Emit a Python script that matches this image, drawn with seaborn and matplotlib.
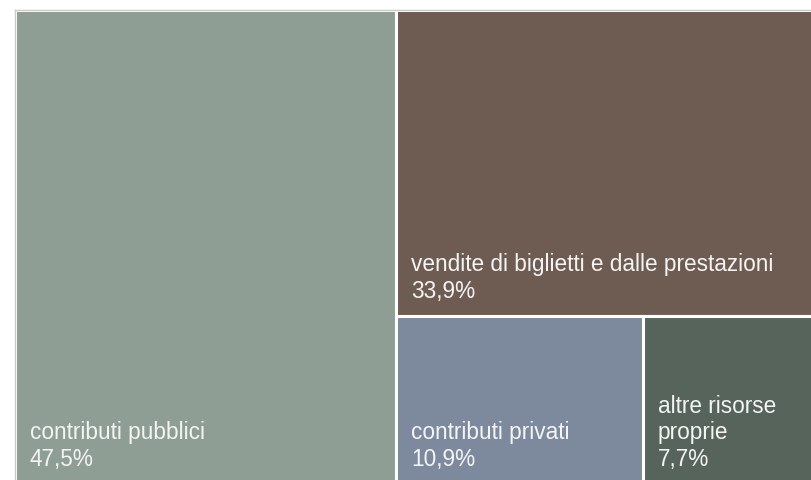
# Treemap delle fonti di finanziamento
import matplotlib
matplotlib.use("Agg")
import matplotlib.pyplot as plt
import seaborn as sns
from matplotlib.patches import Rectangle

# Dati
voci = ["contributi pubblici", "vendite di biglietti e dalle prestazioni",
        "contributi privati", "altre risorse\nproprie"]
quote = [47.5, 33.9, 10.9, 7.7]
etichette = ["47,5%", "33,9%", "10,9%", "7,7%"]
colori = ["#8e9e94", "#6e5c53", "#7d8a9e", "#56645b"]

sns.set_theme(style="white")
plt.rcParams["font.family"] = ["Liberation Sans", "DejaVu Sans"]


# Layout slice-and-dice: il primo elemento si stacca, poi si alterna la direzione
def slice_dice(valori, x, y, w, h, verticale=True):
    rett = []
    for i, v in enumerate(valori):
        resto = sum(valori[i:])
        if i == len(valori) - 1:
            rett.append((x, y, w, h))
            break
        f = v / resto
        if verticale:
            rett.append((x, y, w * f, h))
            x, w = x + w * f, w * (1 - f)
        else:
            rett.append((x, y + h * (1 - f), w, h * f))
            h = h * (1 - f)
        verticale = not verticale
    return rett


W, H = 811, 480
fig = plt.figure(figsize=(W / 100, H / 100), dpi=100)
# il treemap esce un po' dal bordo destro e inferiore
ax = fig.add_axes([15 / W, -4 / H, (818 - 15) / W, (484 - 10) / H])

rettangoli = slice_dice(quote, 0, 0, 1, 1)
for (x, y, w, h), col, voce, et in zip(rettangoli, colori, voci, etichette):
    ax.add_patch(Rectangle((x, y), w, h, facecolor=col, edgecolor="white",
                           linewidth=2.2))
    ax.annotate(voce + "\n" + et, xy=(x, y), xytext=(10.5, 13),
                textcoords="offset points", ha="left", va="baseline",
                fontsize=16.3, color="#f4f4f4", linespacing=1.2)

ax.set_xlim(0, 1)
ax.set_ylim(0, 1)
ax.set_xticks([])
ax.set_yticks([])
for s in ax.spines.values():
    s.set_color("#c9c9c9")
    s.set_linewidth(1)

plt.savefig("out.png", dpi=100)
